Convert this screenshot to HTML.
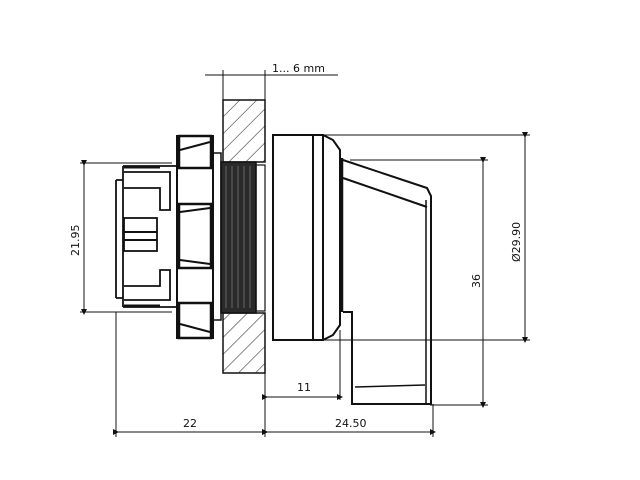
<!DOCTYPE html>
<html><head><meta charset="utf-8"><style>
html,body{margin:0;padding:0;background:#fff;}
svg{display:block;}
text{font-family:"DejaVu Sans","Liberation Sans",sans-serif;font-size:11px;fill:#111;}
</style></head><body>
<svg width="640" height="480" viewBox="0 0 640 480" xmlns="http://www.w3.org/2000/svg">
<defs>
<pattern id="h" patternUnits="userSpaceOnUse" width="12" height="12" patternTransform="rotate(45)">
<line x1="0" y1="0" x2="0" y2="12" stroke="#333" stroke-width="1.2"/>
</pattern>
<marker id="a" markerWidth="6" markerHeight="6" refX="3" refY="3" orient="auto"><path d="M0,0 L6,3 L0,6" fill="#111"/></marker>
</defs>
<g stroke="#111" fill="none" stroke-width="1">
<line x1="205" y1="75" x2="338" y2="75"/>
<line x1="223" y1="70" x2="223" y2="100"/>
<line x1="265" y1="70" x2="265" y2="100"/>
<rect x="223" y="100" width="42" height="62" fill="url(#h)" stroke-width="1.5"/>
<rect x="223" y="313" width="42" height="60" fill="url(#h)" stroke-width="1.5"/>
<rect x="221" y="162" width="35" height="151" fill="#2a2a2a" stroke-width="1.5"/>
<g stroke="#777" stroke-width="0.8">
<line x1="226" y1="166" x2="226" y2="308"/><line x1="232" y1="166" x2="232" y2="308"/><line x1="238" y1="166" x2="238" y2="308"/><line x1="244" y1="166" x2="244" y2="308"/><line x1="250" y1="166" x2="250" y2="308"/>
</g>
<rect x="256" y="165" width="9" height="146" stroke-width="1.2"/>
<rect x="213" y="153" width="8" height="167" stroke-width="1.5"/>
<rect x="177" y="136" width="36" height="202" stroke-width="2"/>
<rect x="179" y="136" width="32" height="32" stroke-width="2.5"/>
<rect x="179" y="204" width="32" height="64" stroke-width="2.5"/>
<rect x="179" y="303" width="32" height="35" stroke-width="2.5"/>
<line x1="180" y1="150" x2="210" y2="142" stroke-width="2"/>
<line x1="180" y1="212" x2="210" y2="208" stroke-width="2"/>
<line x1="180" y1="260" x2="210" y2="264" stroke-width="2"/>
<line x1="180" y1="324" x2="210" y2="332" stroke-width="2"/>
<path d="M123,166 H177 M123,307 H177 M123,166 V307 M116,180 V298 M116,180 H123 M116,298 H123" stroke-width="1.8"/>
<path d="M124,172 H170 V210 H160 V188 H124" stroke-width="1.8"/>
<path d="M124,300 H170 V270 H160 V286 H124" stroke-width="1.8"/>
<rect x="124" y="218" width="33" height="33" stroke-width="1.8"/>
<line x1="124" y1="232" x2="157" y2="232" stroke-width="2"/><line x1="124" y1="240" x2="157" y2="240" stroke-width="2"/>
<line x1="124" y1="167" x2="160" y2="167" stroke-width="3"/><line x1="124" y1="306" x2="160" y2="306" stroke-width="3"/>
<line x1="80" y1="163" x2="172" y2="163"/>
<line x1="80" y1="312" x2="172" y2="312"/>
<line x1="84" y1="163" x2="84" y2="312" marker-start="url(#a)" marker-end="url(#a)"/>
<line x1="116" y1="312" x2="116" y2="437"/>
<line x1="265" y1="373" x2="265" y2="437"/>
<line x1="116" y1="432" x2="265" y2="432" marker-start="url(#a)" marker-end="url(#a)"/>
<rect x="273" y="135" width="40" height="205" stroke-width="2"/>
<rect x="313" y="135" width="10" height="205" stroke-width="2"/>
<path d="M323,135 L333,140 L340,150 V325 L333,335 L323,340" stroke-width="2"/>
<line x1="342" y1="158" x2="342" y2="312" stroke-width="2.5"/>
<path d="M343,160 L427,188 L431,196 V404 H352 V312 H343" stroke-width="2"/>
<line x1="343" y1="178" x2="427" y2="207" stroke-width="2"/>
<line x1="426" y1="200" x2="426" y2="404" stroke-width="1.5"/>
<line x1="355" y1="387" x2="425" y2="385" stroke-width="1.5"/>
<line x1="323" y1="135" x2="530" y2="135"/>
<line x1="273" y1="340" x2="530" y2="340"/>
<line x1="525" y1="135" x2="525" y2="340" marker-start="url(#a)" marker-end="url(#a)"/>
<line x1="350" y1="160" x2="488" y2="160"/>
<line x1="430" y1="405" x2="488" y2="405"/>
<line x1="483" y1="160" x2="483" y2="405" marker-start="url(#a)" marker-end="url(#a)"/>
<line x1="340" y1="330" x2="340" y2="400"/>
<line x1="265" y1="397" x2="340" y2="397" marker-start="url(#a)" marker-end="url(#a)"/>
<line x1="433" y1="404" x2="433" y2="437"/>
<line x1="265" y1="432" x2="433" y2="432" marker-start="url(#a)" marker-end="url(#a)"/>
</g>
<text x="272" y="72">1... 6 mm</text>
<text x="0" y="0" transform="translate(79,256) rotate(-90)">21.95</text>
<text x="183" y="427">22</text>
<text x="297" y="391">11</text>
<text x="335" y="427">24.50</text>
<text x="0" y="0" transform="translate(480,288) rotate(-90)">36</text>
<text x="0" y="0" transform="translate(520,262) rotate(-90)">Ø29.90</text>
</svg>
</body></html>
